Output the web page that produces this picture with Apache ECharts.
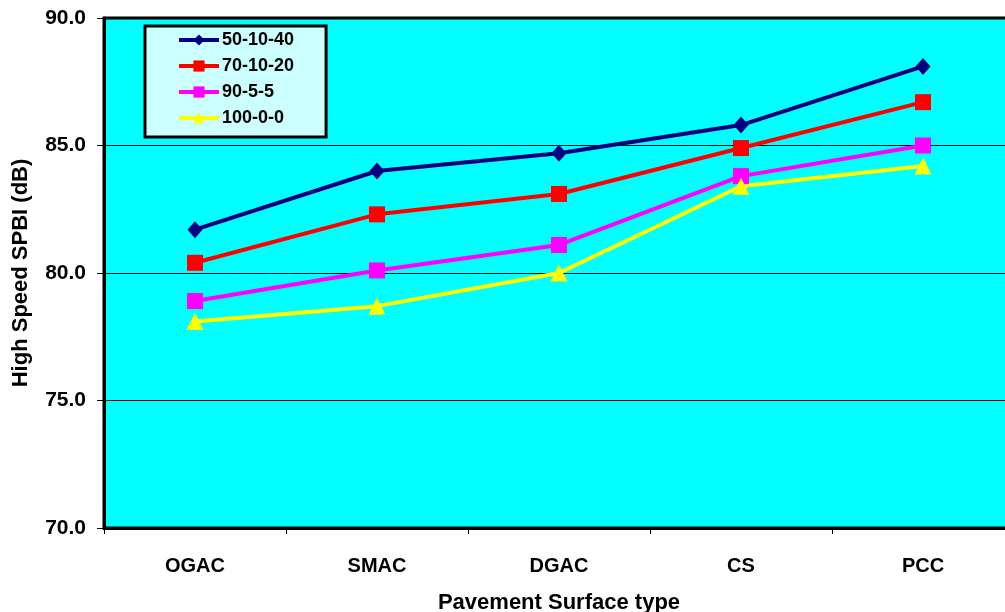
<!DOCTYPE html>
<html><head><meta charset="utf-8">
<script src="https://cdn.jsdelivr.net/npm/echarts@6/dist/echarts.min.js"></script>
<style>html,body{margin:0;padding:0;background:#fff}#c{width:1005px;height:612px}</style>
</head><body><div id="c"></div>
<script>
const categories = ['OGAC','SMAC','DGAC','CS','PCC'];
const s50_10_40 = [81.7, 84.0, 84.7, 85.8, 88.1];
const s70_10_20 = [80.4, 82.3, 83.1, 84.9, 86.7];
const s90_5_5 = [78.9, 80.1, 81.1, 83.8, 85.0];
const s100_0_0 = [78.1, 78.7, 80.0, 83.4, 84.2];
const seriesNames = ['50-10-40','70-10-20','90-5-5','100-0-0'];

const chart = echarts.init(document.getElementById('c'));
const font = '"Liberation Sans", Arial, sans-serif';
function mk(name, data, color, symbol, size) {
  return {name, type:'line', data, symbol, symbolSize:size,
    lineStyle:{color, width:4}, itemStyle:{color}, z:3};
}
chart.setOption({
  animation:false,
  grid:{left:104, top:18, width:910, height:510, outerBoundsMode:'none', containLabel:false,
    show:true, backgroundColor:'#00ffff', borderColor:'#000', borderWidth:3},
  legend:{orient:'vertical', left:145, top:26, padding:[5,32,10,32],
    backgroundColor:'#ccffff', borderColor:'#000', borderWidth:3, itemGap:8, itemWidth:40, itemHeight:14,
    lineStyle:{width:4},
    textStyle:{fontFamily:font, fontWeight:'bold', fontSize:18, color:'#000', padding:[0,0,0,-2]},
    data:seriesNames},
  xAxis:{type:'category', data:categories, boundaryGap:true,
    axisLine:{lineStyle:{color:'#000', width:3}},
    axisTick:{show:true, length:6, lineStyle:{color:'#000', width:1}},
    axisLabel:{fontFamily:font, fontWeight:'bold', fontSize:20, color:'#000', margin:28},
    name:'Pavement Surface type', nameLocation:'middle', nameGap:64,
    nameTextStyle:{fontFamily:font, fontWeight:'bold', fontSize:22, color:'#000'}},
  yAxis:{type:'value', min:70, max:90, interval:5,
    axisLine:{show:true, lineStyle:{color:'#000', width:3}},
    axisTick:{show:true, length:7, lineStyle:{color:'#000', width:1}},
    splitLine:{show:true, lineStyle:{color:'#000', width:1}},
    axisLabel:{fontFamily:font, fontWeight:'bold', fontSize:21, color:'#000', margin:18,
      formatter:v=>v.toFixed(1)},
    name:'High Speed SPBI (dB)', nameLocation:'middle', nameGap:72, nameRotate:90,
    nameTextStyle:{fontFamily:font, fontWeight:'bold', fontSize:22, color:'#000'}},
  series:[
    mk(seriesNames[0], s50_10_40, '#000080', 'diamond', [15,17]),
    mk(seriesNames[1], s70_10_20, '#ff0000', 'rect', 16),
    mk(seriesNames[2], s90_5_5, '#ff00ff', 'rect', 16),
    mk(seriesNames[3], s100_0_0, '#ffff00', 'triangle', 17)
  ]
});
</script></body></html>
